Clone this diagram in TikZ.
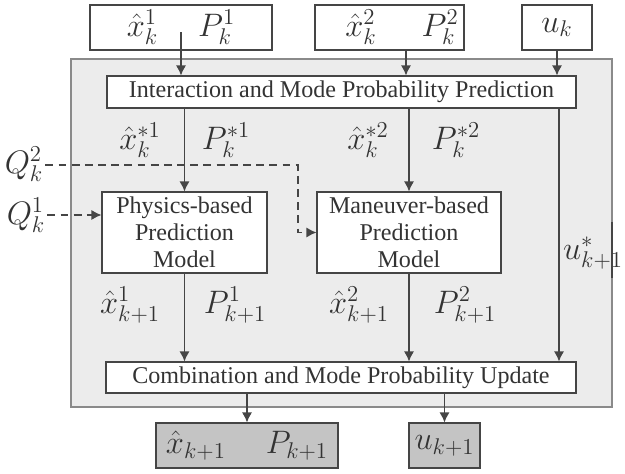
\RequirePackage{fix-cm}
\documentclass[tikz,border=0pt]{standalone}
\usepackage{fontspec}
\setmainfont{Liberation Serif}
\usetikzlibrary{calc,arrows.meta}
\definecolor{imgray}{HTML}{ECECEC}
\definecolor{imedge}{HTML}{8A8A8A}
\definecolor{imdark}{HTML}{454545}
\definecolor{imout}{HTML}{C4C4C4}
\definecolor{imtext}{HTML}{333333}

\begin{document}
\begin{tikzpicture}[
        box/.style={draw=imdark, line width=0.6pt, fill=white, align=center, inner sep=0pt,
                    font=\fontsize{13.7}{15.4}\selectfont, text=imtext},
        varbox/.style={box, minimum height=0.9cm, font=\fontsize{18.5}{21}\selectfont},
        outbox/.style={varbox, fill=imout},
        var/.style={text=imtext, font=\fontsize{18.5}{21}\selectfont, inner sep=1pt},
        arrow/.style={-{Latex[length=2mm,width=2mm]}, draw=imdark, line width=0.7pt},
        noise/.style={arrow, dash pattern=on 4.5pt off 3pt}
      ]
        \useasboundingbox (0,0) rectangle (12.5,9.48);
        \draw[fill=imgray, draw=imedge, line width=0.6pt] (1.42,1.34) rectangle (12.24,8.30);
        \draw[imdark, line width=0.7pt] (12.24,5.04) -- (12.24,3.92);

        % inputs
        \node[varbox, minimum width=3.64cm] (top1) at (3.62,8.93) {$\hat{x}^1_k$\hspace{0.8cm}$P^1_k$};
        \node[varbox, minimum width=2.98cm] (top2) at (7.79,8.93) {\hspace{0.5cm}$\hat{x}^2_k$\hspace{0.9cm}$P^2_k$};
        \node[varbox, minimum width=1.40cm] (topu) at (11.14,8.93) {$u_k$};

        % filter blocks
        \node[box, minimum width=9.38cm, minimum height=0.64cm] (inter) at (6.83,7.64)
          {Interaction and Mode Probability Prediction};
        \node[box, minimum width=3.30cm, minimum height=1.62cm] (phys) at (3.69,4.83)
          {Physics-based\\Prediction\\Model};
        \node[box, minimum width=3.68cm, minimum height=1.62cm] (manv) at (8.18,4.83)
          {Maneuver-based\\Prediction\\Model};
        \node[box, minimum width=9.40cm, minimum height=0.62cm] (comb) at (6.82,1.93)
          {Combination and Mode Probability Update};

        % outputs
        \node[outbox, minimum width=3.64cm] (out1) at (4.94,0.57) {$\hat{x}_{k+1}$\hspace{0.8cm}$P_{k+1}$};
        \node[outbox, minimum width=1.42cm] (out2) at (8.89,0.57) {$u_{k+1}$};

        % labels on the arrows
        \node[var] (xs1) at (2.80,6.68) {$\hat{x}^{*1}_k$};
        \node[var] (ps1) at (4.52,6.68) {$P^{*1}_k$};
        \node[var] (xs2) at (7.36,6.68) {$\hat{x}^{*2}_k$};
        \node[var] (ps2) at (9.12,6.68) {$P^{*2}_k$};
        \node[var] (xn1) at (2.60,3.38) {$\hat{x}^1_{k+1}$};
        \node[var] (pn1) at (4.70,3.38) {$P^1_{k+1}$};
        \node[var] (xn2) at (7.18,3.38) {$\hat{x}^2_{k+1}$};
        \node[var] (pn2) at (9.30,3.38) {$P^2_{k+1}$};
        \node[var] (us)  at (11.86,4.42) {$u^*_{k+1}$};
        \node[var] (q2)  at (0.48,6.20) {$Q^2_k$};
        \node[var] (q1)  at (0.52,5.18) {$Q^1_k$};
        \coordinate (qbend) at (5.96,6.18);

        \draw[arrow] ([yshift=-0.1cm]top1.center) -- (top1.center |- inter.north);
        \draw[arrow] ([xshift=0.33cm]top2.south) -- ([xshift=0.33cm]top2.south |- inter.north);
        \draw[arrow] (topu.south) -- (topu.south |- inter.north);

        \draw[arrow] (phys.north |- inter.south) -- (phys.north);
        \draw[arrow] (manv.north |- inter.south) -- (manv.north);
        \draw[arrow] ([xshift=0.04cm]topu.south |- inter.south) -- ([xshift=0.04cm]topu.south |- comb.north);

        \draw[arrow] (phys.south) -- (phys.south |- comb.north);
        \draw[arrow] (manv.south) -- (manv.south |- comb.north);

        \draw[arrow] (out1.north |- comb.south) -- (out1.north);
        \draw[arrow] (out2.north |- comb.south) -- (out2.north);

        \draw[noise] (q2.east |- qbend) -- (qbend) |- (manv.west);
        \draw[noise] (q1.east) -- (q1.east -| phys.west);
      \end{tikzpicture}
\end{document}
